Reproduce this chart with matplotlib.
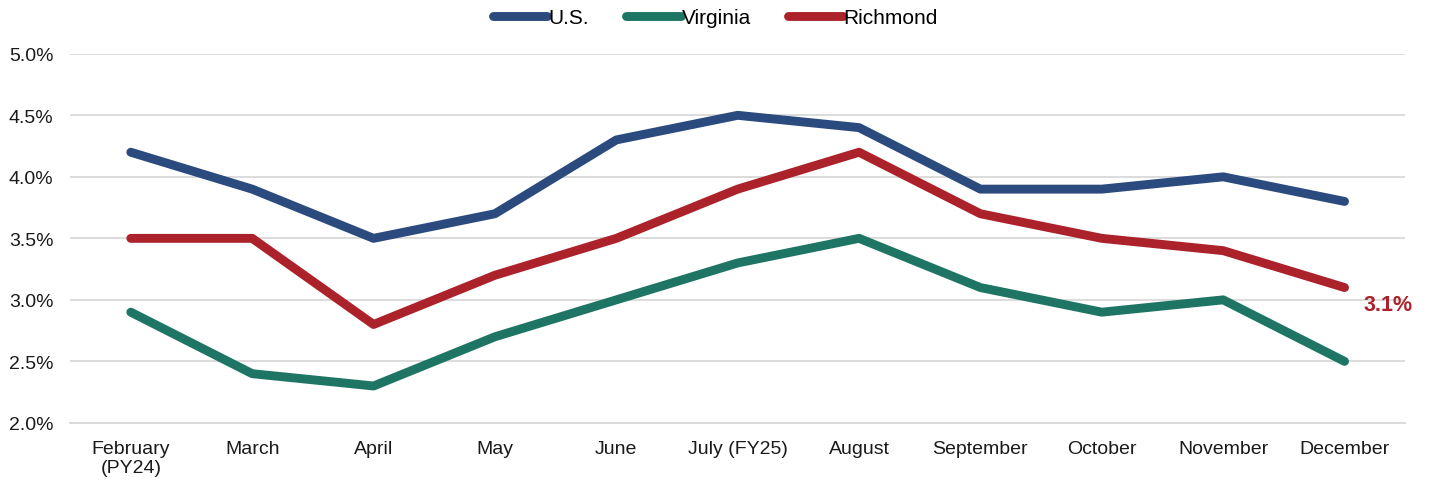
import matplotlib
matplotlib.use("Agg")
import matplotlib.pyplot as plt
from matplotlib.ticker import FuncFormatter

plt.rcParams["font.family"] = ["Liberation Sans", "DejaVu Sans"]

months = ["February\n(PY24)", "March", "April", "May", "June", "July (FY25)",
          "August", "September", "October", "November", "December"]
us = [4.2, 3.9, 3.5, 3.7, 4.3, 4.5, 4.4, 3.9, 3.9, 4.0, 3.8]
virginia = [2.9, 2.4, 2.3, 2.7, 3.0, 3.3, 3.5, 3.1, 2.9, 3.0, 2.5]
richmond = [3.5, 3.5, 2.8, 3.2, 3.5, 3.9, 4.2, 3.7, 3.5, 3.4, 3.1]

c_us = "#2B4A7E"
c_va = "#1E7563"
c_ri = "#AC222B"

fig = plt.figure(figsize=(14.31, 4.85), dpi=100)
ax = fig.add_axes([0.049, 0.126, 0.933, 0.761])

x = range(len(months))
kw = dict(lw=6.4, solid_capstyle="round", solid_joinstyle="round", zorder=3)
ax.plot(x, us, color=c_us, label="U.S.", **kw)
ax.plot(x, virginia, color=c_va, label="Virginia", **kw)
ax.plot(x, richmond, color=c_ri, label="Richmond", **kw)

ax.annotate(f"{richmond[-1]:.1f}%", (x[-1], richmond[-1]), xytext=(14, -12),
            textcoords="offset points", color=c_ri, fontsize=15.5, fontweight="bold",
            va="center", ha="left")

ax.set_xlim(-0.5, len(months) - 0.5)
ax.set_ylim(2.0, 5.0)
ax.set_yticks([2.0, 2.5, 3.0, 3.5, 4.0, 4.5, 5.0])
ax.yaxis.set_major_formatter(FuncFormatter(lambda v, p: f"{v:.1f}%"))
ax.set_xticks(list(x))
ax.set_xticklabels(months, linespacing=1.2)
ax.tick_params(axis="both", length=0, labelsize=14, colors="#1a1a1a")
ax.tick_params(axis="x", pad=12)
ax.tick_params(axis="y", pad=12)
ax.grid(axis="y", color="#D9D9D9", lw=1.3)
ax.set_axisbelow(True)
for s in ["top", "right", "left"]:
    ax.spines[s].set_visible(False)
ax.spines["bottom"].set_color("#D9D9D9")
ax.spines["bottom"].set_linewidth(1.3)

fig.legend(loc="upper center", bbox_to_anchor=(0.5, 1.02), ncol=3, frameon=False,
           fontsize=15, handlelength=2.6, handletextpad=0.05, columnspacing=1.8)

fig.savefig("out.png", dpi=100)
